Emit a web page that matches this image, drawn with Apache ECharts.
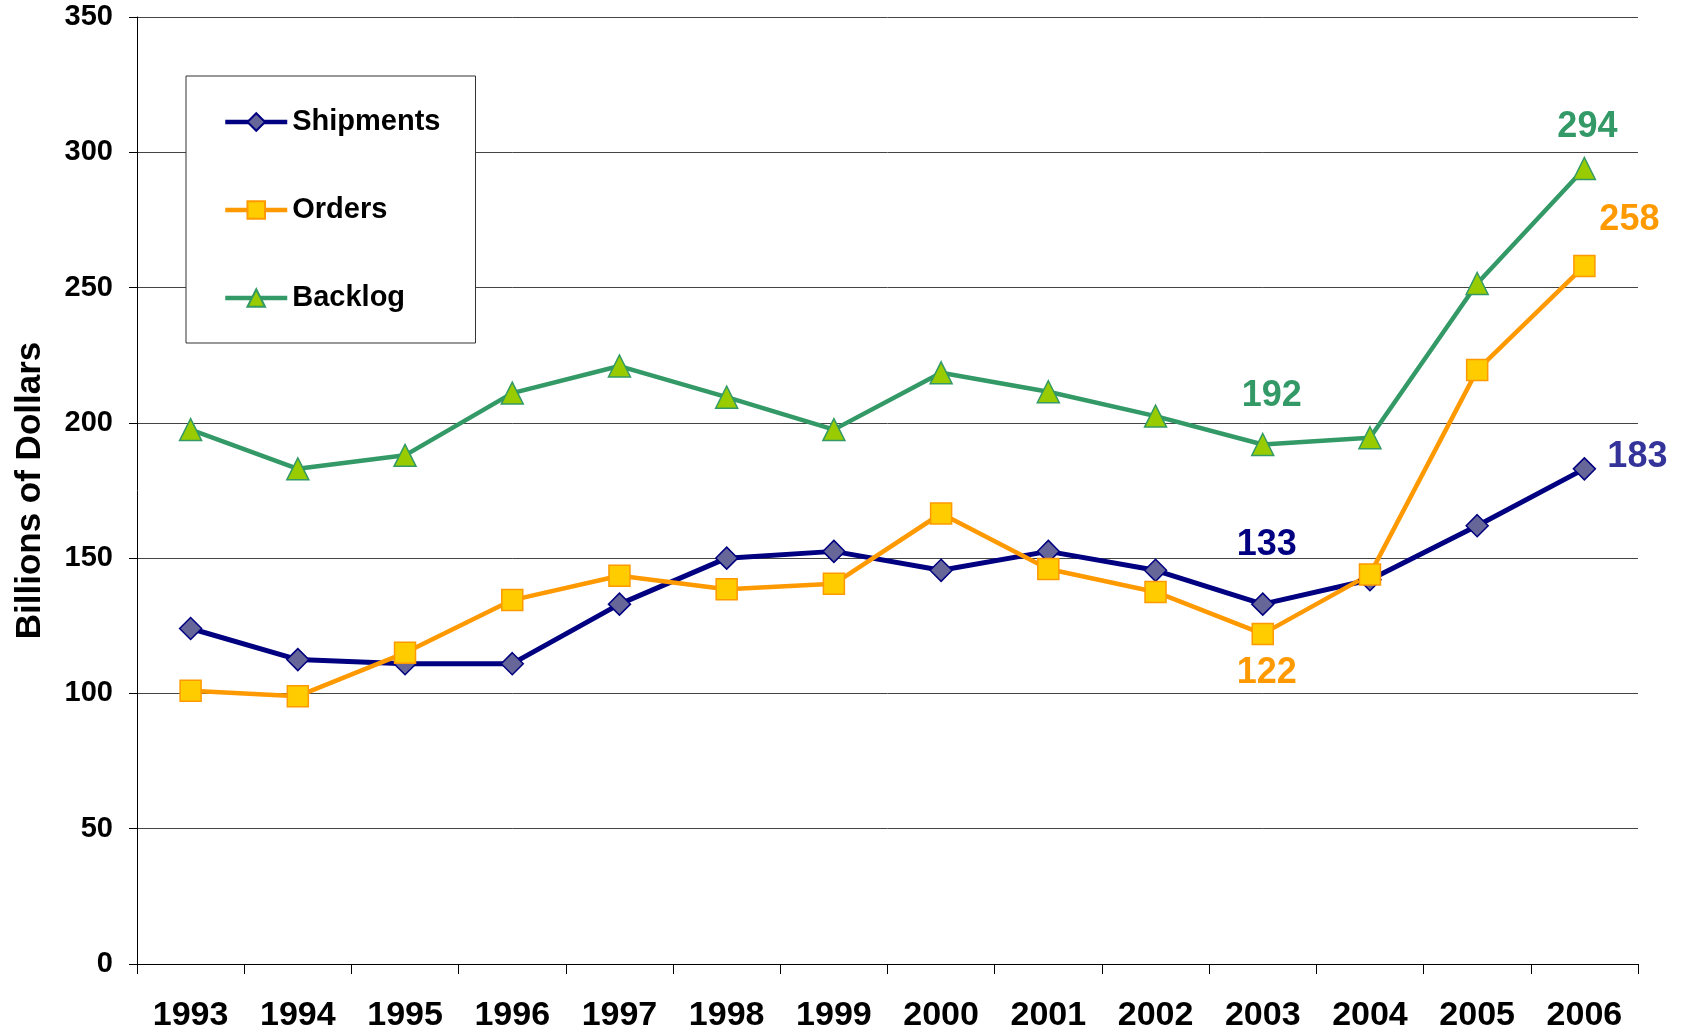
<!DOCTYPE html>
<html>
<head>
<meta charset="utf-8">
<title>Shipments, Orders, Backlog</title>
<script src="https://cdn.jsdelivr.net/npm/echarts@6/dist/echarts.min.js"></script>
<style>
	html, body { margin: 0; padding: 0; background: #fff; }
	#chart { width: 1682px; height: 1033px; }
</style>
</head>
<body>
<div id="chart"></div>
<script>
var years = ['1993','1994','1995','1996','1997','1998','1999','2000','2001','2002','2003','2004','2005','2006'];
var shipments = [124, 112.5, 111, 111, 133, 150, 152.5, 145.5, 152.5, 145.5, 133, 142, 162, 183];
var orders = [101, 99, 115, 134.5, 143.5, 138.5, 140.5, 166.5, 146, 137.5, 122, 144, 219.5, 258];
var backlog = [197.5, 183, 188, 211, 221, 209.5, 197.5, 218.5, 211.5, 202.5, 192, 194.5, 251.5, 294];
var yTicks = [0, 50, 100, 150, 200, 250, 300, 350];

var FONT = '"Liberation Sans", Arial, sans-serif';

// which points carry a value label: index -> [dx, dy, colour]
var shipLabels = { 10: [4, -59, '#000080'], 13: [53, -12, '#333399'] };
var orderLabels = { 10: [4, 39, '#FF9900'], 13: [45, -46, '#FF9900'] };
var backLabels = { 10: [9, -48, '#339966'], 13: [3, -41, '#339966'] };

function withLabels(values, marks){
	return values.map(function(v, i){
		var m = marks[i];
		if (!m) return v;
		return {
			value: v,
			label: {
				show: true,
				position: 'inside',
				offset: [m[0], m[1]],
				align: 'center',
				verticalAlign: 'middle',
				color: m[2],
				fontFamily: FONT,
				fontWeight: 'bold',
				fontSize: 36,
				formatter: function(p){ return Math.round(p.value); }
			}
		};
	});
}

var myChart = echarts.init(document.getElementById('chart'));

var option = {
	animation: false,
	backgroundColor: '#fff',
	textStyle: { fontFamily: FONT },
	grid: { left: 137, right: 44, top: 17, bottom: 67, containLabel: false },
	legend: {
		orient: 'vertical',
		left: 186,
		top: 76,
		padding: [31, 35, 30, 37],
		itemGap: 58,
		itemWidth: 62,
		itemHeight: 22,
		borderColor: '#333',
		borderWidth: 1,
		backgroundColor: '#fff',
		lineStyle: { width: 4.5 },
		textStyle: { fontFamily: FONT, fontWeight: 'bold', fontSize: 29, color: '#000', lineHeight: 30 },
		data: ['Shipments', 'Orders', 'Backlog']
	},
	xAxis: {
		type: 'category',
		data: years,
		boundaryGap: true,
		axisLine: { lineStyle: { color: '#000', width: 1 } },
		axisTick: { show: true, length: 10, lineStyle: { color: '#000' } },
		axisLabel: { margin: 35, color: '#000', fontFamily: FONT, fontWeight: 'bold', fontSize: 34 }
	},
	yAxis: {
		type: 'value',
		min: yTicks[0],
		max: yTicks[yTicks.length - 1],
		interval: 50,
		name: 'Billions of Dollars',
		nameLocation: 'middle',
		nameGap: 89,
		nameRotate: 90,
		nameTextStyle: { fontFamily: FONT, fontWeight: 'bold', fontSize: 35, color: '#000' },
		axisLine: { show: true, lineStyle: { color: '#000', width: 1 } },
		axisTick: { show: true, length: 8, lineStyle: { color: '#000' } },
		axisLabel: { margin: 24, color: '#000', fontFamily: FONT, fontWeight: 'bold', fontSize: 29 },
		splitLine: { show: true, lineStyle: { color: '#444', width: 1 } }
	},
	series: [
		{
			name: 'Shipments',
			type: 'line',
			data: withLabels(shipments, shipLabels),
			symbol: 'diamond',
			symbolSize: 22,
			lineStyle: { color: '#000080', width: 5 },
			itemStyle: { color: '#666699', borderColor: '#000080', borderWidth: 1.5 }
		},
		{
			name: 'Orders',
			type: 'line',
			data: withLabels(orders, orderLabels),
			symbol: 'rect',
			symbolSize: 21,
			lineStyle: { color: '#FF9900', width: 4.5 },
			itemStyle: { color: '#FFCC00', borderColor: '#FF9900', borderWidth: 1.5 }
		},
		{
			name: 'Backlog',
			type: 'line',
			data: withLabels(backlog, backLabels),
			symbol: 'triangle',
			symbolSize: 22,
			lineStyle: { color: '#339966', width: 4.5 },
			itemStyle: { color: '#99CC00', borderColor: '#339966', borderWidth: 1.5 }
		}
	]
};

myChart.setOption(option);
</script>
</body>
</html>
